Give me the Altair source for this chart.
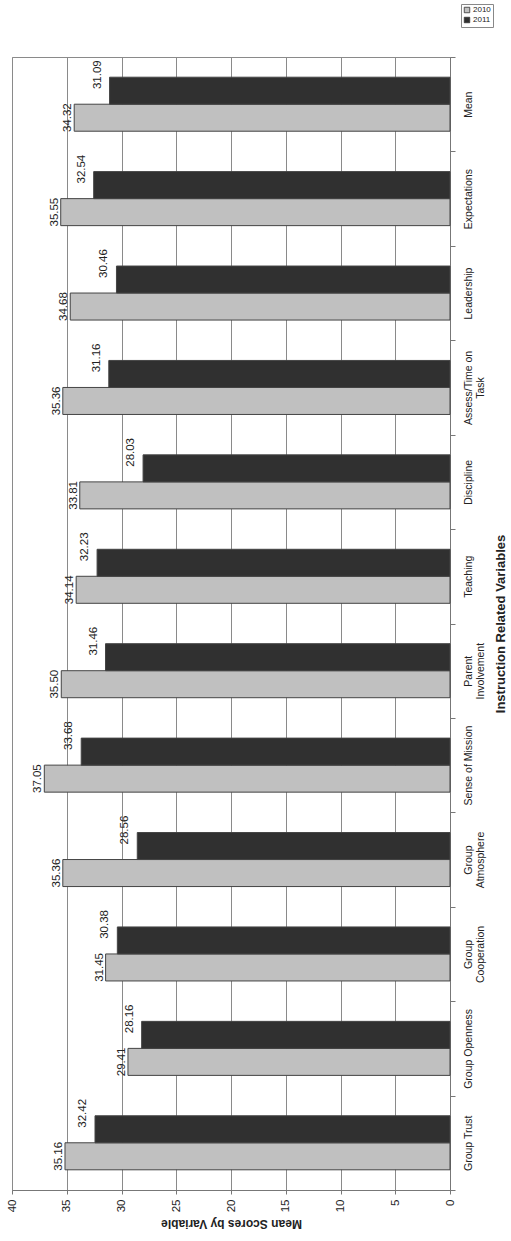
import altair as alt
import pandas as pd

categories = ["Group Trust", "Group Openness", "Group\nCooperation", "Group\nAtmosphere",
              "Sense of Mission", "Parent\nInvolvement", "Teaching", "Discipline",
              "Assess/Time on\nTask", "Leadership", "Expectations", "Mean"]
scores_2010 = [35.16, 29.41, 31.45, 35.36, 37.05, 35.50, 34.14, 33.81, 35.36, 34.68, 35.55, 34.32]
scores_2011 = [32.42, 28.16, 30.38, 28.56, 33.68, 31.46, 32.23, 28.03, 31.16, 30.46, 32.54, 31.09]
years = ["2010", "2011"]

rows = []
for c, a, b in zip(categories, scores_2010, scores_2011):
    rows.append({"cat": c, "year": "2010", "val": a, "lab": f"{a:.2f}"})
    rows.append({"cat": c, "year": "2011", "val": b, "lab": f"{b:.2f}"})
df = pd.DataFrame(rows)

order_top = list(reversed(categories))
FONT = "Liberation Sans"

x_enc = alt.X("val:Q",
              scale=alt.Scale(domain=[0, 40], reverse=True, nice=False),
              axis=alt.Axis(values=list(range(0, 45, 5)), orient="bottom", grid=True,
                            gridColor="#8a8a8a", gridWidth=1, domainColor="#777",
                            tickColor="#777", tickSize=4, labelAngle=270, labelAlign="right",
                            labelBaseline="middle", labelPadding=5, labelFontSize=11.5,
                            labelColor="#222", labelFont=FONT,
                            title="Mean Scores by Variable", titleAngle=180,
                            titleBaseline="bottom", titleFontSize=12, titleFont=FONT,
                            titleFontWeight="bold", titleColor="#222", titlePadding=5))
y_enc = alt.Y("cat:N", sort=order_top,
              scale=alt.Scale(paddingInner=0, paddingOuter=0),
              axis=alt.Axis(orient="right", grid=False, tickBand="extent", tickSize=5,
                            tickColor="#777", domainColor="#777",
                            labelAngle=270, labelAlign="center", labelBaseline="top",
                            labelExpr="split(datum.label, '\\n')", labelLineHeight=12.5,
                            labelPadding=8, labelFontSize=10.5, labelColor="#222",
                            labelFont=FONT,
                            title="Instruction Related Variables", titleAngle=270,
                            titleBaseline="top", titleFontSize=13, titleFont=FONT,
                            titleFontWeight="bold", titleColor="#222", titlePadding=8))
yoff = alt.YOffset("year:N", sort=["2011", "2010"],
                   scale=alt.Scale(paddingInner=0, paddingOuter=0.748))

bars = alt.Chart(df).mark_bar(stroke="#444", strokeWidth=1).encode(
    x=x_enc, y=y_enc, yOffset=yoff,
    color=alt.Color("year:N", sort=years,
                    scale=alt.Scale(domain=years, range=["#c0c0c0", "#303030"]),
                    legend=alt.Legend(title=None, orient="none", legendX=449, legendY=-53,
                                      symbolType="square", symbolSize=30,
                                      symbolStrokeColor="#333", symbolStrokeWidth=0.8,
                                      labelFontSize=8, labelFont=FONT, labelColor="#222",
                                      rowPadding=0, padding=2, strokeColor="#888",
                                      labelOffset=2, fillColor="white")))

lab10 = alt.Chart(df[df.year == "2010"]).mark_text(
    angle=270, align="center", baseline="alphabetic", dy=-3,
    fontSize=11.5, font=FONT, color="#222").encode(
    x=alt.X("val:Q"), y=alt.Y("cat:N", sort=order_top), yOffset=yoff, text="lab:N")
lab11 = alt.Chart(df[df.year == "2011"]).mark_text(
    angle=270, align="center", baseline="alphabetic", dy=-9, dx=16,
    fontSize=11.5, font=FONT, color="#222").encode(
    x=alt.X("val:Q"), y=alt.Y("cat:N", sort=order_top), yOffset=yoff, text="lab:N")

chart = alt.layer(bars, lab10, lab11).properties(
    width=438, height=1133,
    autosize=alt.AutoSizeParams(type="none"),
    padding={"left": 12, "top": 57, "right": 61, "bottom": 51},
    background="white",
).configure_view(stroke="#8a8a8a", strokeWidth=1)

chart.save("out.html", embed_options={"renderer": "svg", "actions": False})
